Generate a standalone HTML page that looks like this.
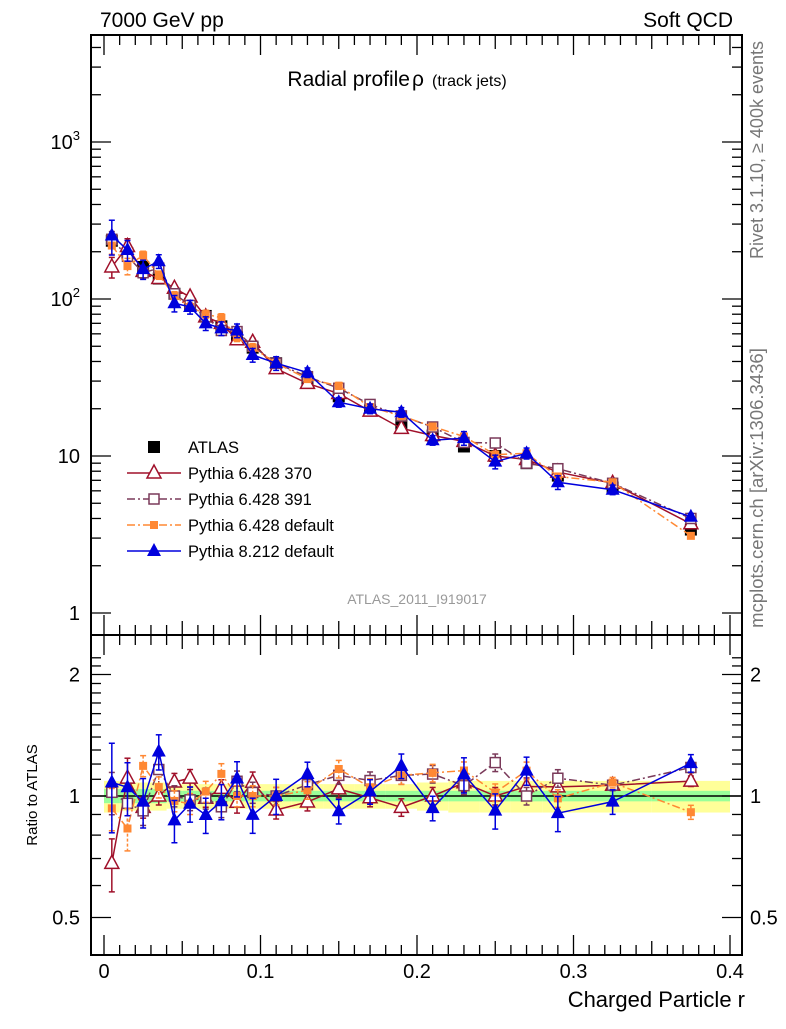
<!DOCTYPE html>
<html><head><meta charset="utf-8"><style>
body{margin:0;background:#fff;}
svg text{font-family:"Liberation Sans",sans-serif;}
</style></head><body>
<svg id="c" width="786" height="1024" xmlns="http://www.w3.org/2000/svg"></svg>
<script>
const xCenters=[0.005,0.015,0.025,0.035,0.045,0.055,0.065,0.075,0.085,0.095,0.11,0.13,0.15,0.17,0.19,0.21,0.23,0.25,0.27,0.29,0.325,0.375];
const binEdges=[0,0.01,0.02,0.03,0.04,0.05,0.06,0.07,0.08,0.09,0.1,0.12,0.14,0.16,0.18,0.2,0.22,0.24,0.26,0.28,0.3,0.35,0.4];
const atlas=[235,195,160,135,108,93,78,67,57,49,39,30,24,19.5,16,13.5,11.5,10,9,7.5,6.3,3.4];
const bandGreen=[0.04,0.04,0.04,0.04,0.03,0.03,0.03,0.03,0.03,0.03,0.03,0.03,0.03,0.03,0.03,0.03,0.03,0.03,0.03,0.03,0.03,0.03];
const bandYellow=[0.09,0.08,0.08,0.08,0.07,0.07,0.07,0.07,0.07,0.07,0.07,0.07,0.07,0.07,0.07,0.08,0.09,0.09,0.09,0.09,0.09,0.09];
const p370=[160,216,150,135,117,103,77,70,55,53,36,29,25,19.3,15,13.5,12.4,10,9.5,7.9,6.7,3.7];
const p391=[240,187,147,157,108,91,77,63,62,50,39,32,27,21.3,18,15.3,12.2,12.1,9,8.3,6.7,4.0];
const pdef=[219,162,190,142,105,89,80,76,57,49,39,31,28,20.5,18,15.4,13.3,10.2,10.4,7.4,6.8,3.1];
const p8=[254,205,155,174,94,89,70,65,63,44,39,34,22,20,19,12.6,13,9.2,10.4,6.8,6.1,4.1];
const err370=[0.15,0.12,0.06,0.05,0.05,0.05,0.05,0.05,0.06,0.06,0.05,0.05,0.05,0.05,0.05,0.05,0.05,0.05,0.05,0.05,0.03,0.03];
const err391=[0.12,0.12,0.08,0.08,0.06,0.06,0.06,0.06,0.06,0.06,0.05,0.05,0.05,0.05,0.05,0.05,0.05,0.05,0.05,0.05,0.03,0.03];
const errdef=[0.12,0.12,0.06,0.06,0.06,0.06,0.06,0.06,0.06,0.06,0.05,0.05,0.05,0.05,0.05,0.05,0.05,0.05,0.05,0.05,0.03,0.04];
const err8=[0.25,0.15,0.14,0.1,0.12,0.1,0.1,0.1,0.1,0.1,0.1,0.07,0.07,0.07,0.07,0.07,0.1,0.1,0.08,0.1,0.07,0.05];
const mainTicks=[1,10,100,1000];
const ratioTicks=[0.5,1,2];
const xTicks=[0,0.1,0.2,0.3,0.4];

const svg=document.getElementById('c');
const NS='http://www.w3.org/2000/svg';
function el(tag,attrs,parent){const e=document.createElementNS(NS,tag);for(const k in attrs)e.setAttribute(k,attrs[k]);(parent||svg).appendChild(e);return e;}
const L=91,R=742,T1=35,B1=635,B2=955;
const X=v=>104+v*1565;
const Y=v=>613-157*Math.log10(v);
const YR=v=>796-121.5*Math.log2(v);

const f1=el('rect',{x:L,y:T1,width:R-L,height:B1-T1,fill:'none',stroke:'#000','stroke-width':2});

const f2=el('rect',{x:L,y:B1,width:R-L,height:B2-B1,fill:'none',stroke:'#000','stroke-width':2});


const bg=el('g',{});
for(let i=0;i<xCenters.length;i++){
 const x0=X(binEdges[i]),x1=X(binEdges[i+1]);
 el('rect',{x:x0,y:YR(1+bandYellow[i]),width:x1-x0,height:YR(1-bandYellow[i])-YR(1+bandYellow[i]),fill:'#ffff99'},bg);
}
for(let i=0;i<xCenters.length;i++){
 const x0=X(binEdges[i]),x1=X(binEdges[i+1]);
 el('rect',{x:x0,y:YR(1+bandGreen[i]),width:x1-x0,height:YR(1-bandGreen[i])-YR(1+bandGreen[i]),fill:'#99ff99'},bg);
}
el('line',{x1:L,x2:R,y1:YR(1),y2:YR(1),stroke:'#000','stroke-width':1.5},bg);

const tg=el('g',{stroke:'#000','stroke-width':1.3});
for(let d=0;d<4;d++){for(let m=1;m<10;m++){const v=Math.pow(10,d)*m;const y=Y(v);if(y<T1||y>B1)continue;const len=m===1?20:10;
 el('line',{x1:L,x2:L+len,y1:y,y2:y},tg);el('line',{x1:R,x2:R-len,y1:y,y2:y},tg);}}
for(let v=0.4;v<=2.3;v+=0.1){const y=YR(v);if(y<B1||y>B2)continue;const maj=ratioTicks.some(t=>Math.abs(t-v)<1e-6);const len=maj?20:10;
 el('line',{x1:L,x2:L+len,y1:y,y2:y},tg);el('line',{x1:R,x2:R-len,y1:y,y2:y},tg);}
for(let i=0;i<=40;i++){const v=i/100;const x=X(v);const len=i%10===0?20:(i%5===0?14:10);
 el('line',{x1:x,x2:x,y1:B2,y2:B2-len},tg);el('line',{x1:x,x2:x,y1:B1,y2:B1-len},tg);el('line',{x1:x,x2:x,y1:B1,y2:B1+len},tg);el('line',{x1:x,x2:x,y1:T1,y2:T1+len},tg);}

function txt(s,x,y,opt,name){const t=el('text',Object.assign({x:x,y:y,'font-size':20,fill:'#000'},opt||{}));t.textContent=s;return t;}
mainTicks.forEach(v=>{const y=Y(v);
 if(v>=100){const t=txt('10',80,y+7,{'text-anchor':'end'},'y-tick-label');const s=el('tspan',{dy:-9,'font-size':13},t);s.textContent=String(Math.round(Math.log10(v)));}
 else txt(String(v),80,y+7,{'text-anchor':'end'},'y-tick-label');});
ratioTicks.forEach(v=>{const y=YR(v);txt(String(v),80,y+7,{'text-anchor':'end'},'ratio-tick-label');txt(String(v),750,y+7,{},'ratio-tick-label-right');});
xTicks.forEach(v=>txt(v===0?'0':String(v),X(v),978,{'text-anchor':'middle'},'x-tick-label'));

txt('7000 GeV pp',100,27,{'font-size':21},'energy-label');
txt('Soft QCD',733,27,{'font-size':21,'text-anchor':'end'},'process-label');
txt('Radial profile ',410,86,{'font-size':21,'text-anchor':'end'},'plot-title');
txt('ρ',412,86,{'font-size':21},'plot-title-rho');
txt('(track jets)',432,86,{'font-size':16},'plot-title-sub');
txt('ATLAS_2011_I919017',417,604,{'font-size':14,fill:'#999','text-anchor':'middle'},'analysis-id');
txt('Charged Particle r',745,1007,{'font-size':22,'text-anchor':'end'},'x-axis-title');
txt('Ratio to ATLAS',37,795,{'font-size':15,'text-anchor':'middle',transform:'rotate(-90 37 795)'},'ratio-axis-title');
txt('Rivet 3.1.10, ≥ 400k events',763,150,{'font-size':18,fill:'#777','text-anchor':'middle',transform:'rotate(-90 763 150)'},'rivet-version-label');
txt('mcplots.cern.ch [arXiv:1306.3436]',763,488,{'font-size':18.5,fill:'#777','text-anchor':'middle',transform:'rotate(-90 763 488)'},'mcplots-label');

function marker(g,type,color,x,y){
 if(type==='sq') el('rect',{x:x-6,y:y-6,width:12,height:12,fill:'#000'},g);
 else if(type==='tri-open') el('path',{d:`M${x},${y-8}L${x+7},${y+5}L${x-7},${y+5}Z`,fill:'#fff',stroke:color,'stroke-width':1.5},g);
 else if(type==='sq-open') el('rect',{x:x-5,y:y-5,width:10,height:10,fill:'#fff',stroke:color,'stroke-width':1.5},g);
 else if(type==='sq-fill') el('rect',{x:x-4,y:y-4,width:8,height:8,fill:color},g);
 else if(type==='tri') el('path',{d:`M${x},${y-8}L${x+7},${y+5}L${x-7},${y+5}Z`,fill:color},g);
}
const series=[
 {name:'pythia-6428-370',vals:p370,err:err370,color:'#a0102a',dash:'',type:'tri-open',label:'Pythia 6.428 370'},
 {name:'pythia-6428-391',vals:p391,err:err391,color:'#7a3a5a',dash:'8,3,2,3',type:'sq-open',label:'Pythia 6.428 391'},
 {name:'pythia-6428-default',vals:pdef,err:errdef,color:'#ff8833',dash:'8,3,2,3',type:'sq-fill',label:'Pythia 6.428 default'},
 {name:'pythia-8212-default',vals:p8,err:err8,color:'#0000dd',dash:'',type:'tri',label:'Pythia 8.212 default'}];

const ag=el('g',{});
atlas.forEach((v,i)=>marker(ag,'sq','#000',X(xCenters[i]),Y(v)));

series.forEach(s=>{
 const g=el('g',{});
 const gr=el('g',{});
 const pts=s.vals.map((v,i)=>X(xCenters[i])+','+Y(v)).join(' ');
 const rpts=s.vals.map((v,i)=>X(xCenters[i])+','+YR(v/atlas[i])).join(' ');
 el('polyline',{points:pts,fill:'none',stroke:s.color,'stroke-width':1.5,'stroke-dasharray':s.dash},g);
 el('polyline',{points:rpts,fill:'none',stroke:s.color,'stroke-width':1.5,'stroke-dasharray':s.dash},gr);
 s.vals.forEach((v,i)=>{const x=X(xCenters[i]);const e=s.err[i];
  [[g,Y,v],[gr,YR,v/atlas[i]]].forEach(([gg,fy,val])=>{
   const y1=fy(val*(1+e)),y2=fy(val*(1-e));
   el('line',{x1:x,x2:x,y1:y1,y2:y2,stroke:s.color,'stroke-width':1.5,'stroke-dasharray':s.dash?'3,2':''},gg);
   el('line',{x1:x-3,x2:x+3,y1:y1,y2:y1,stroke:s.color,'stroke-width':1.5},gg);
   el('line',{x1:x-3,x2:x+3,y1:y2,y2:y2,stroke:s.color,'stroke-width':1.5},gg);
   marker(gg,s.type,s.color,x,fy(val));});
 });
});

const lg=el('g',{});
const le0=el('g',{},lg);
marker(le0,'sq','#000',154,447);
const lt=el('text',{x:188,y:453,'font-size':16.5},le0);lt.textContent='ATLAS';
series.forEach((s,k)=>{const y=473+26*k;
 const e=el('g',{},lg);
 el('line',{x1:127,x2:181,y1:y,y2:y,stroke:s.color,'stroke-width':1.5,'stroke-dasharray':s.dash},e);
 marker(e,s.type,s.color,154,y);
 const t=el('text',{x:188,y:y+6,'font-size':16.5},e);t.textContent=s.label;});
</script>
</body></html>
